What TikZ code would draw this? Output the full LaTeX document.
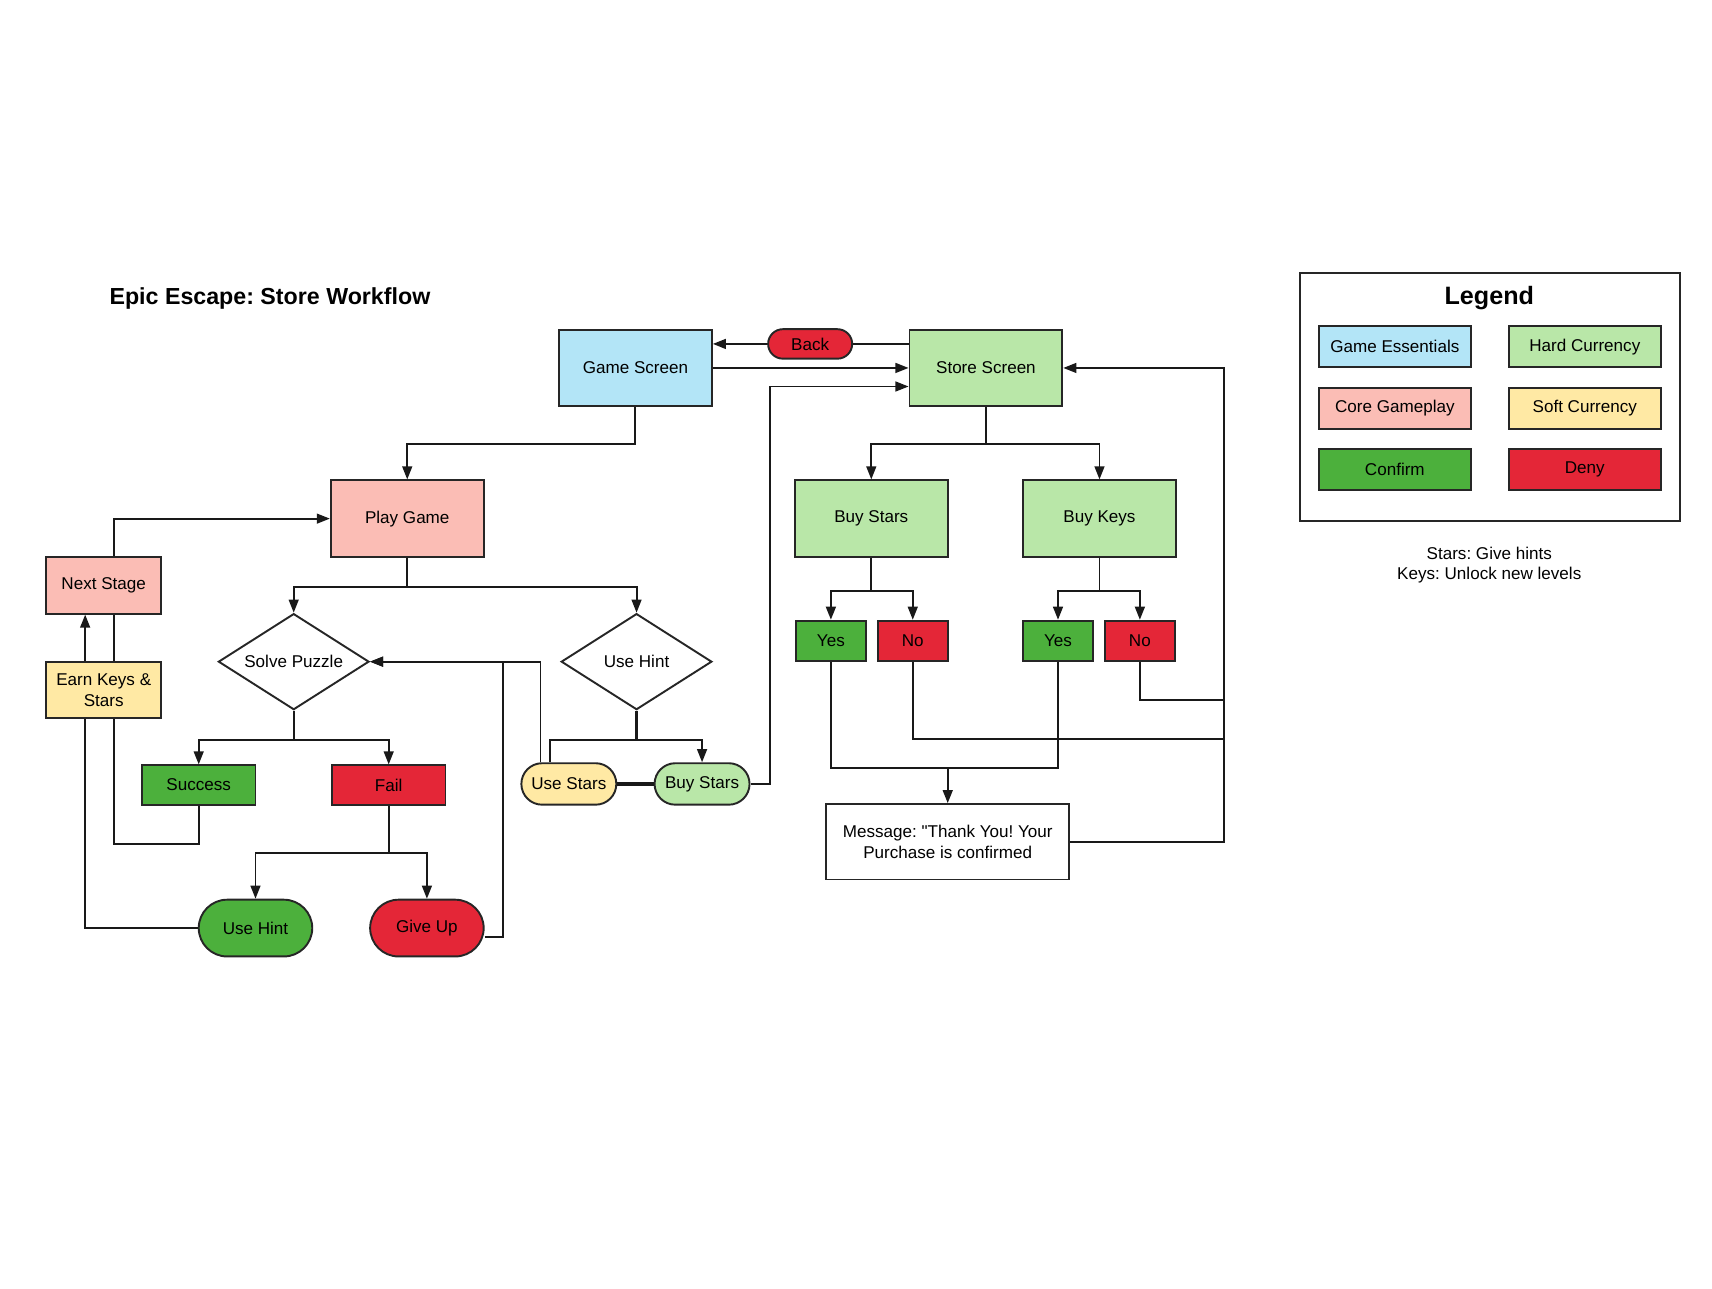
\documentclass[tikz,border=0pt]{standalone}
\usepackage{fontspec}
\setmainfont{Liberation Sans}[Ligatures=TeXOff]
\usepackage{xcolor}
\usepackage{tikz}
\usetikzlibrary{shapes.geometric, arrows.meta, positioning}
\definecolor{essblue}{RGB}{179, 229, 247}
\definecolor{hardgreen}{RGB}{185, 231, 168}
\definecolor{coresalmon}{RGB}{251, 189, 181}
\definecolor{softyellow}{RGB}{255, 233, 164}
\definecolor{okgreen}{RGB}{76, 176, 60}
\definecolor{denyred}{RGB}{228, 38, 55}
\frenchspacing

\tikzset{
  base/.style={draw=black!85, line width=1pt, align=center, inner sep=1pt,
               font=\fontsize{8.9}{10.8}\selectfont},
  bigbox/.style={base, minimum width=2.8cm, minimum height=1.4cm},
  smallbox/.style={base, minimum width=2.08cm, minimum height=0.72cm},
  sidebox/.style={base, minimum width=2.1cm, minimum height=1.04cm},
  answer/.style={base, minimum width=1.28cm, minimum height=0.74cm},
  pill/.style={base, rounded corners=0.52cm, minimum width=2.08cm, minimum height=1.04cm},
  smallpill/.style={base, rounded corners=0.38cm, minimum width=1.74cm, minimum height=0.76cm},
  decision/.style={base, diamond, aspect=1.6, fill=white, minimum width=2.76cm,
                   minimum height=1.76cm, inner sep=0pt},
  keybox/.style={base, minimum width=2.78cm, minimum height=0.76cm},
  link/.style={line width=1pt, draw=black!90},
  arr/.style={link, -{Triangle[length=2.4mm, width=1.8mm]}},
  stem/.style={link, line width=2pt},
}

\begin{document}
\begin{tikzpicture}[x=0.02cm, y=-0.02cm]
\useasboundingbox (0,0) rectangle (1568,1180);

% Title
\node[anchor=west, inner sep=0pt, font=\fontsize{12.1}{14}\selectfont\bfseries] (title) at (100,273)
    {Epic Escape: Store Workflow};

% Screens
\node[bigbox, fill=essblue] (gamescreen) at (582,337) {Game Screen};
\node[bigbox, fill=hardgreen] (storescreen) at (903,337) {Store Screen};
\node[smallpill, fill=denyred, minimum width=1.54cm, minimum height=0.54cm, rounded corners=0.27cm]
    (back) at (742,315) {Back};

% Gameplay side
\node[bigbox, fill=coresalmon] (playgame) at (373,475) {Play Game};
\node[sidebox, fill=coresalmon] (nextstage) at (95,536) {Next Stage};
\node[sidebox, fill=softyellow] (earnkeys) at (95,632) {Earn Keys \&\\Stars};
\node[decision] (solvepuzzle) at (269,606) {Solve Puzzle};
\node[decision] (usehint) at (583,606) {Use Hint};
\node[smallbox, fill=okgreen] (success) at (182,719) {Success};
\node[smallbox, fill=denyred] (fail) at (356,719) {Fail};
\node[pill, fill=okgreen] (hintpill) at (234,850) {Use Hint};
\node[pill, fill=denyred] (giveup) at (391,850) {Give Up};
\node[smallpill, fill=softyellow] (usestars) at (521,718) {Use Stars};
\node[smallpill, fill=hardgreen] (starpill) at (643,718) {Buy Stars};

% Store side
\node[bigbox, fill=hardgreen] (buystars) at (798,475) {Buy Stars};
\node[bigbox, fill=hardgreen] (buykeys) at (1007,475) {Buy Keys};
\node[answer, fill=okgreen] (yesstars) at (761,587) {Yes};
\node[answer, fill=denyred] (nostars) at (836,587) {No};
\node[answer, fill=okgreen] (yeskeys) at (969,587) {Yes};
\node[answer, fill=denyred] (nokeys) at (1044,587) {No};
\node[base, fill=white, minimum width=4.46cm, minimum height=1.38cm] (message) at (868,771)
    {Message: "Thank You! Your\\Purchase is confirmed};

\coordinate (join) at (868,703);
\coordinate (rail) at (1121,337);
\coordinate (railA) at (1121,677);
\coordinate (railB) at (1121,641);

% Screen links
\draw[link] (back.east) -- (storescreen.west |- back.east);
\draw[arr] (back.west) -- (gamescreen.east |- back.west);
\draw[arr] (gamescreen.east) -- (storescreen.west);
\draw[arr] (starpill.east) -- ++(18,0) |- ([yshift=-3.4mm]storescreen.west);
\draw[arr] (gamescreen.south) -- ++(0,34) -| (playgame.north);

% Store links
\draw[arr] (storescreen.south) -- ++(0,34) -| (buystars.north);
\draw[arr] (storescreen.south) -- ++(0,34) -| (buykeys.north);
\draw[arr] (buystars.south) -- ++(0,30) -| (yesstars.north);
\draw[arr] (buystars.south) -- ++(0,30) -| (nostars.north);
\draw[arr] (buykeys.south) -- ++(0,30) -| (yeskeys.north);
\draw[arr] (buykeys.south) -- ++(0,30) -| (nokeys.north);
\draw[link] (yesstars.south) |- (join) -| (yeskeys.south);
\draw[arr] (join) -- (message.north);
\draw[link] (nostars.south) |- (railA);
\draw[link] (nokeys.south) |- (railB);
\draw[arr] (message.east) -| (rail) -- (storescreen.east);

% Gameplay links
\draw[arr] ([xshift=1.8mm]nextstage.north) |- (playgame.west);
\draw[arr] ([xshift=-3.4mm]earnkeys.north) -- ([xshift=-3.4mm]nextstage.south);
\draw[link] ([xshift=1.8mm]earnkeys.north) -- ([xshift=1.8mm]nextstage.south);
\draw[arr] (playgame.south) -- ++(0,27) -| (solvepuzzle.north);
\draw[arr] (playgame.south) -- ++(0,27) -| (usehint.north);
\draw[arr] (solvepuzzle.south) -- ++(0,27) -| (success.north);
\draw[arr] (solvepuzzle.south) -- ++(0,27) -| (fail.north);
\draw[arr] (fail.south) -- ++(0,43) -| (hintpill.north);
\draw[arr] (fail.south) -- ++(0,43) -| (giveup.north);
\draw[link] (success.south) -- ++(0,35) -| ([xshift=1.8mm]earnkeys.south);
\draw[link] (hintpill.west) -| ([xshift=-3.4mm]earnkeys.south);
\draw[arr] ([yshift=-1.6mm]giveup.east) -- ++(17,0) |- (solvepuzzle.east);
\draw[arr] ([xshift=-5.2mm]usestars.north) |- (solvepuzzle.east);
\draw[stem] (usehint.south) -- ++(0,27);
\draw[link] (usehint.south) ++(0,27) -| ([xshift=-3.4mm]usestars.north);
\draw[arr] (usehint.south) -- ++(0,27) -| (starpill.north);
\draw[stem] (usestars.east) -- (starpill.west);

% Legend
\node[draw=black!85, line width=1pt, minimum width=6.96cm, minimum height=4.54cm] (legendbox) at (1365,363.5) {};
\node[font=\fontsize{13.1}{15}\selectfont\bfseries] (legendtitle) at (1364,273) {Legend};
\node[keybox, fill=essblue] (keyess) at (1277.5,317.5) {Game Essentials};
\node[keybox, fill=hardgreen] (keyhard) at (1451.5,317.5) {Hard Currency};
\node[keybox, fill=coresalmon] (keycore) at (1277.5,374) {Core Gameplay};
\node[keybox, fill=softyellow] (keysoft) at (1451.5,374) {Soft Currency};
\node[keybox, fill=okgreen] (keyok) at (1277.5,430) {Confirm};
\node[keybox, fill=denyred] (keydeny) at (1451.5,430) {Deny};
\node[align=center, font=\fontsize{8.9}{10.8}\selectfont] (notes) at (1364,517.5)
    {Stars: Give hints\\Keys: Unlock new levels};

\end{tikzpicture}
\end{document}
